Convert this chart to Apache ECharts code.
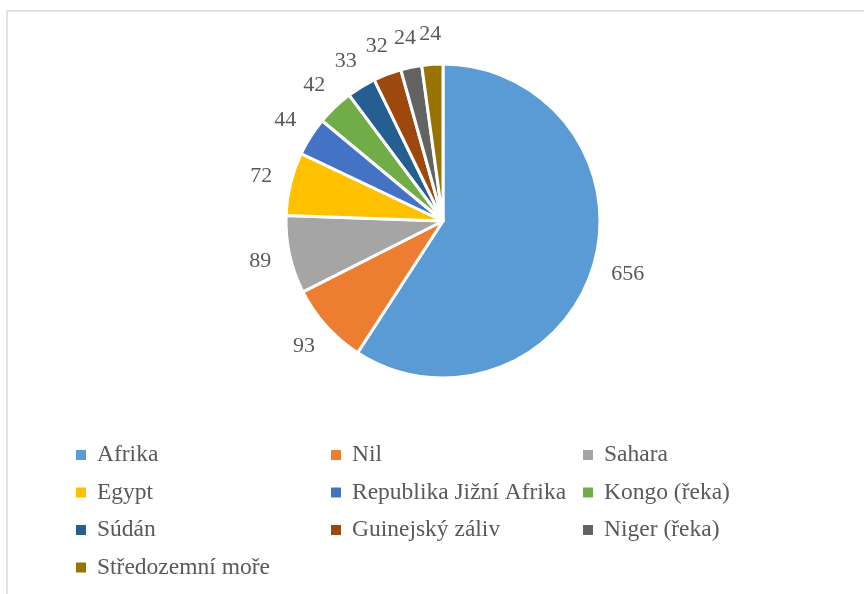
<!DOCTYPE html>
<html>
<head>
<meta charset="utf-8">
<script src="https://cdn.jsdelivr.net/npm/echarts@6/dist/echarts.min.js"></script>
<style>
  html, body { margin: 0; padding: 0; background: #fff; }
  #chart { width: 864px; height: 594px; }
</style>
</head>
<body>
<div id="chart"></div>
<script>
var categories = ['Afrika', 'Nil', 'Sahara', 'Egypt', 'Republika Jižní Afrika', 'Kongo (řeka)',
	'Súdán', 'Guinejský záliv', 'Niger (řeka)', 'Středozemní moře'];
var values = [656, 93, 89, 72, 44, 42, 33, 32, 24, 24];
var colors = ['#5B9BD5', '#ED7D31', '#A5A5A5', '#FFC000', '#4472C4', '#70AD47',
	'#255E91', '#9E480E', '#636363', '#997300'];

var font = '"Liberation Serif", "Times New Roman", serif';

// legend in three columns, filled row by row
var legendCols = [[], [], []];
categories.forEach(function(name, i) {
	legendCols[i % 3].push(name);
});
var legendLeft = [76, 331, 583];

var option = {
	color: colors,
	animation: false,
	graphic: [{
		type: 'rect',
		shape: { x: 7, y: 11, width: 900, height: 700 },
		style: { fill: 'none', stroke: '#d9d9d9', lineWidth: 1.5 },
		silent: true
	}],
	legend: legendCols.map(function(col, k) {
		return {
			orient: 'vertical',
			left: legendLeft[k],
			top: 443,
			padding: 0,
			data: col,
			icon: 'rect',
			itemWidth: 10,
			itemHeight: 10,
			itemGap: 13.5,
			selectedMode: false,
			itemStyle: { borderWidth: 0 },
			textStyle: {
				fontFamily: font,
				fontSize: 23.5,
				lineHeight: 24,
				color: '#595959',
				padding: [0, 0, 0, 6]
			}
		};
	}),
	series: [{
		type: 'pie',
		center: [443, 221],
		radius: [0, 157],
		startAngle: 90,
		clockwise: true,
		avoidLabelOverlap: false,
		silent: true,
		itemStyle: {
			borderColor: '#fff',
			borderWidth: 3
		},
		label: {
			show: true,
			position: 'outside',
			formatter: '{c}',
			fontFamily: font,
			fontSize: 22,
			color: '#595959',
			distanceToLabelLine: -11
		},
		labelLine: {
			show: false,
			length: 30,
			length2: 0
		},
		data: categories.map(function(name, i) {
			return { name: name, value: values[i] };
		})
	}]
};

var my = echarts.init(document.getElementById('chart'));
my.setOption(option);
</script>
</body>
</html>
